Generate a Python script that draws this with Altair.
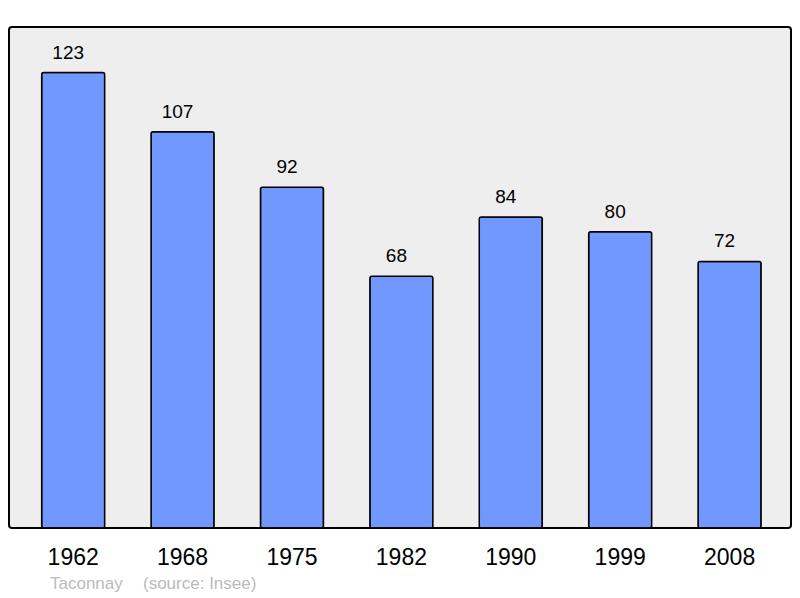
import altair as alt
import pandas as pd

years = ["1962", "1968", "1975", "1982", "1990", "1999", "2008"]
population = [123, 107, 92, 68, 84, 80, 72]
footer_texts = ["Taconnay", "(source: Insee)"]

df = pd.DataFrame({"year": years, "pop": population})

x = alt.X("year:N", sort=years,
          scale=alt.Scale(paddingInner=0.424, paddingOuter=0.286, align=0.522),
          axis=alt.Axis(title=None, labelAngle=0, ticks=False, domain=False,
                        labelFontSize=23, labelFont="Liberation Sans",
                        labelColor="#000000", labelBaseline="alphabetic",
                        labelPadding=36))
y = alt.Y("pop:Q", scale=alt.Scale(domain=[0, 135.3], nice=False, zero=True),
          axis=None)

bars = alt.Chart(df).mark_bar(color="#7098FF", stroke="#000000", strokeWidth=1.5,
                              cornerRadius=2).encode(x=x, y=y)

labels = alt.Chart(df).mark_text(baseline="alphabetic", dy=-14, dx=-5, fontSize=19,
                                 font="Liberation Sans", color="#000000").encode(
    x=x, y=y, text="pop:Q")

foot = pd.DataFrame({"t": footer_texts})
footer1 = alt.Chart(foot.iloc[[0]]).mark_text(align="left", baseline="alphabetic", fontSize=17,
                                   font="Liberation Sans", color="#BBBBBB").encode(
    x=alt.value(41), y=alt.value(562), text="t:N")
footer2 = alt.Chart(foot.iloc[[1]]).mark_text(align="left", baseline="alphabetic", fontSize=17,
                                   font="Liberation Sans", color="#BBBBBB").encode(
    x=alt.value(134), y=alt.value(562), text="t:N")

chart = alt.layer(bars, labels, footer1, footer2).properties(
    width=782, height=501,
    autosize=alt.AutoSizeParams(type="none"),
    padding={"left": 1, "top": 19, "right": 1, "bottom": 70},
).configure_view(
    fill="#EEEEEE", stroke="#000000", strokeWidth=2, cornerRadius=3
)

chart.save("out.html", embed_options={"renderer": "svg", "actions": False})
